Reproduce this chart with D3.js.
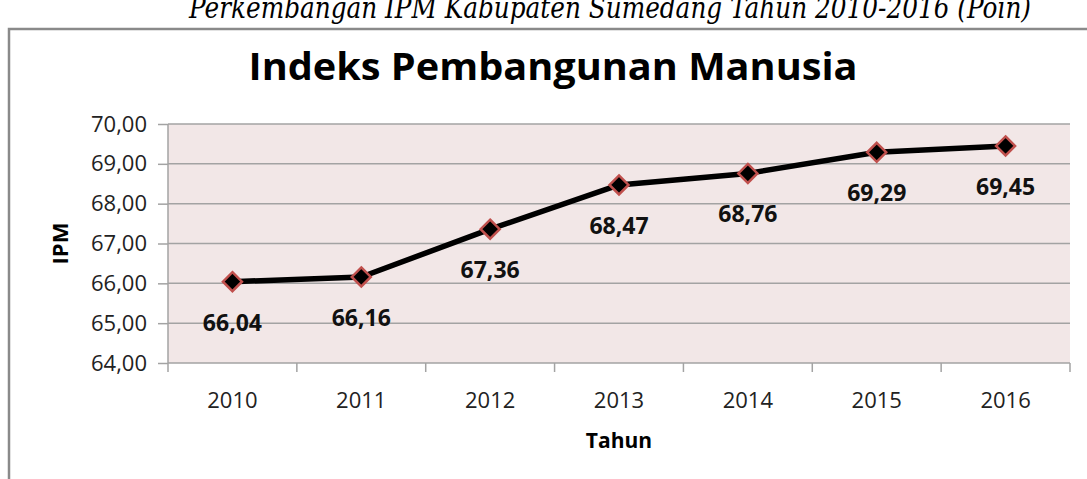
<!DOCTYPE html>
<html>
<head>
<meta charset="utf-8">
<script src="https://cdn.jsdelivr.net/npm/d3@7"></script>
<style>
  body { margin: 0; background: #fff; }
  text { font-family: "Open Sans", "Noto Sans", sans-serif; }
</style>
</head>
<body>
<div id="chart"></div>
<script>
// data
const years = ["2010", "2011", "2012", "2013", "2014", "2015", "2016"];
const ipm = [66.04, 66.16, 67.36, 68.47, 68.76, 69.29, 69.45];
const yTicks = [64, 65, 66, 67, 68, 69, 70];

const width = 1087, height = 479;
const plot = { left: 168, right: 1070, top: 124, bottom: 363 };
const fmt = v => v.toFixed(2).replace(".", ",");

const svg = d3.select("#chart").append("svg")
	.attr("width", width)
	.attr("height", height);

// subtitle above the frame, cut at the top like in the scan
svg.append("text")
	.attr("x", 610).attr("y", 18)
	.attr("text-anchor", "middle")
	.style("font-family", "'DejaVu Serif', serif")
	.style("font-style", "italic")
	.style("font-size", "29px")
	.attr("textLength", 842)
	.attr("lengthAdjust", "spacingAndGlyphs")
	.text("Perkembangan IPM Kabupaten Sumedang Tahun 2010-2016 (Poin)");

// frame of the chart
svg.append("path")
	.attr("d", `M9,${height} V29 H${width}`)
	.attr("fill", "none")
	.attr("stroke", "#8a8a8a")
	.attr("stroke-width", 2.5);

svg.append("text")
	.attr("x", 553).attr("y", 80)
	.attr("text-anchor", "middle")
	.style("font-weight", "bold")
	.style("font-size", "37px")
	.attr("textLength", 609)
	.attr("lengthAdjust", "spacingAndGlyphs")
	.text("Indeks Pembangunan Manusia");

const x = d3.scaleBand().domain(years).range([plot.left, plot.right]);
const y = d3.scaleLinear().domain([64, 70]).range([plot.bottom, plot.top]);

svg.append("rect")
	.attr("x", plot.left).attr("y", plot.top)
	.attr("width", plot.right - plot.left).attr("height", plot.bottom - plot.top)
	.attr("fill", "#f2e7e7");

// gridlines
svg.append("g").selectAll("line")
	.data(yTicks.slice(1))
	.enter().append("line")
	.attr("x1", plot.left).attr("x2", plot.right)
	.attr("y1", d => y(d)).attr("y2", d => y(d))
	.attr("stroke", "#a3a3a3")
	.attr("stroke-width", 1.5);

// y axis
const yAxis = svg.append("g")
	.attr("transform", `translate(${plot.left},0)`)
	.call(d3.axisLeft(y).tickValues(yTicks).tickFormat(fmt).tickSize(10).tickPadding(11));
yAxis.selectAll("line, path").attr("stroke", "#a3a3a3").attr("stroke-width", 1.5);
yAxis.select("path").attr("d", `M0,${plot.top}V${plot.bottom}`);
yAxis.selectAll("text")
	.attr("fill", "#222")
	.style("font-size", "22px");

// x axis, ticks between categories
const xAxis = svg.append("g")
	.attr("transform", `translate(0,${plot.bottom})`);
xAxis.append("line")
	.attr("x1", plot.left).attr("x2", plot.right)
	.attr("stroke", "#a3a3a3").attr("stroke-width", 1.5);
xAxis.selectAll(".tick")
	.data(years.concat(["end"]))
	.enter().append("line")
	.attr("x1", (d, i) => i < years.length ? x(d) : plot.right)
	.attr("x2", (d, i) => i < years.length ? x(d) : plot.right)
	.attr("y1", 0).attr("y2", 9)
	.attr("stroke", "#a3a3a3").attr("stroke-width", 1.5);
xAxis.selectAll(".lbl")
	.data(years)
	.enter().append("text")
	.attr("x", d => x(d) + x.bandwidth() / 2)
	.attr("y", 45)
	.attr("text-anchor", "middle")
	.attr("fill", "#222")
	.style("font-size", "22px")
	.text(d => d);

// axis titles
svg.append("text")
	.attr("x", (plot.left + plot.right) / 2).attr("y", 448)
	.attr("text-anchor", "middle")
	.style("font-weight", "bold")
	.style("font-size", "21px")
	.text("Tahun");
svg.append("text")
	.attr("transform", `translate(68,${(plot.top + plot.bottom) / 2}) rotate(-90)`)
	.attr("text-anchor", "middle")
	.style("font-weight", "bold")
	.style("font-size", "22px")
	.text("IPM");

// line and markers
const pts = years.map((d, i) => ({ year: d, value: ipm[i] }));
const line = d3.line()
	.x(d => x(d.year) + x.bandwidth() / 2)
	.y(d => y(d.value));
svg.append("path")
	.datum(pts)
	.attr("d", line)
	.attr("fill", "none")
	.attr("stroke", "#000")
	.attr("stroke-width", 5.5)
	.attr("stroke-linejoin", "round");

svg.selectAll(".marker")
	.data(pts)
	.enter().append("path")
	.attr("class", "marker")
	.attr("transform", d => `translate(${x(d.year) + x.bandwidth() / 2},${y(d.value)})`)
	.attr("d", "M0,-9.5 L9.5,0 L0,9.5 L-9.5,0 Z")
	.attr("fill", "#000")
	.attr("stroke", "#c0504d")
	.attr("stroke-width", 2.5);

svg.selectAll(".dlabel")
	.data(pts)
	.enter().append("text")
	.attr("x", d => x(d.year) + x.bandwidth() / 2)
	.attr("y", d => y(d.value) + 49)
	.attr("text-anchor", "middle")
	.style("font-weight", "bold")
	.style("font-size", "23px")
	.attr("fill", "#111")
	.text(d => fmt(d.value));
</script>
</body>
</html>
